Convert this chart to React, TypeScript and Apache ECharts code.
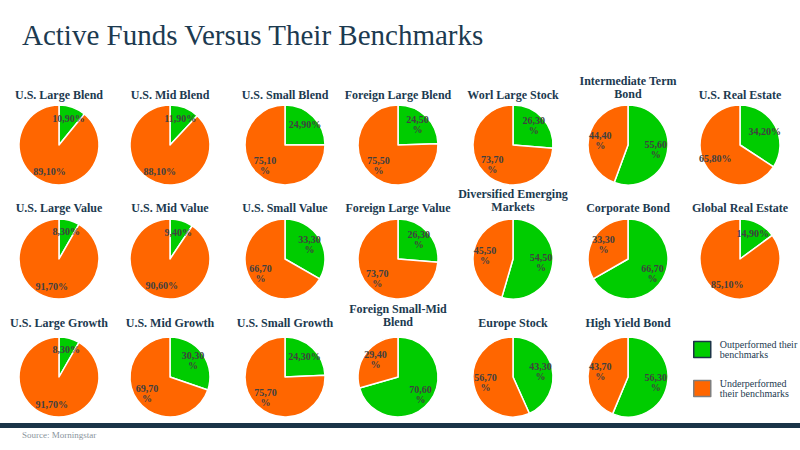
import React, { useEffect, useRef } from "react";
import * as echarts from "echarts";

// ---- data ----
const funds = [
  "U.S. Large Blend", "U.S. Mid Blend", "U.S. Small Blend", "Foreign Large Blend", "Worl Large Stock", "Intermediate Term\nBond", "U.S. Real Estate",
  "U.S. Large Value", "U.S. Mid Value", "U.S. Small Value", "Foreign Large Value", "Diversified Emerging\nMarkets", "Corporate Bond", "Global Real Estate",
  "U.S. Large Growth", "U.S. Mid Growth", "U.S. Small Growth", "Foreign Small-Mid\nBlend", "Europe Stock", "High Yield Bond",
];
const outperformed = [
  10.9, 11.9, 24.9, 24.5, 26.3, 55.6, 34.2,
  8.3, 9.4, 33.3, 26.3, 54.5, 66.7, 14.9,
  8.3, 30.3, 24.3, 70.6, 43.3, 56.3,
];
const underperformed = [
  89.1, 88.1, 75.1, 75.5, 73.7, 44.4, 65.8,
  91.7, 90.6, 66.7, 73.7, 45.5, 33.3, 85.1,
  91.7, 69.7, 75.7, 29.4, 56.7, 43.7,
];
// whether the data label breaks before "%" (outperformed, underperformed)
const wrapOut = [
  false, false, false, true, true, true, false,
  false, false, true, true, true, true, false,
  false, true, false, true, true, true,
];
const wrapUnder = [
  false, false, true, true, true, true, false,
  false, false, true, true, true, true, false,
  false, true, true, true, true, true,
];
const seriesNames = ["Outperformed their benchmarks", "Underperformed their benchmarks"];
const legendLabels = ["Outperformed their\nbenchmarks", "Underperformed\ntheir benchmarks"];
const mainTitle = "Active Funds Versus Their Benchmarks";
const sourceText = "Source: Morningstar";

// ---- layout ----
const colX = [59, 170, 285, 398, 513, 628, 740];
const rowY = [145, 259, 377];
const titleY = [95, 208, 323];
const R = 40;
const GREEN = "#00CC00";
const ORANGE = "#FF6600";
const NAVY = "#1c3a50";
const SERIF = "'Liberation Serif', Georgia, 'Times New Roman', serif";

function fmt(v: number, wrap: boolean) {
  const s = v.toFixed(2).replace(".", ",");
  return wrap ? s + "\n%" : s + "%";
}

export default function App() {
  const ref = useRef<HTMLDivElement>(null);
  useEffect(() => {
    if (!ref.current) return;
    const chart = echarts.init(ref.current, undefined, { renderer: "svg" });
    const series: any[] = [];
    const graphics: any[] = [];
    funds.forEach((name, i) => {
      const col = i % 7;
      const row = Math.floor(i / 7);
      const center = [colX[col], rowY[row]];
      const data = [
        { name: seriesNames[0], value: outperformed[i], itemStyle: { color: GREEN } },
        { name: seriesNames[1], value: underperformed[i], itemStyle: { color: ORANGE } },
      ];
      series.push({
        type: "pie",
        center,
        radius: [0, R],
        startAngle: 90,
        clockwise: true,
        silent: true,
        label: { show: false },
        labelLine: { show: false },
        itemStyle: { borderColor: "#ffffff", borderWidth: 1.5 },
        data,
      });
      series.push({
        type: "pie",
        center,
        radius: [R * 0.26, R],
        startAngle: 90,
        clockwise: true,
        silent: true,
        itemStyle: { color: "rgba(0,0,0,0)", borderWidth: 0 },
        label: {
          show: true,
          position: "inside",
          align: "center",
          color: "#404040",
          fontFamily: SERIF,
          fontWeight: "bold",
          fontSize: 10,
          lineHeight: 10,
          formatter: (p: any) =>
            p.dataIndex === 0 ? fmt(outperformed[i], wrapOut[i]) : fmt(underperformed[i], wrapUnder[i]),
        },
        labelLine: { show: false },
        data: data.map((d) => ({ name: d.name, value: d.value })),
      });
      const lines = name.split("\n");
      lines.forEach((ln, k) => {
        const y = lines.length > 1 ? titleY[row] - 14 + k * 13 : titleY[row];
        graphics.push({
          type: "text",
          x: colX[col],
          y,
          style: {
            text: ln,
            align: "center",
            verticalAlign: "middle",
            fill: NAVY,
            font: `bold 12px ${SERIF}`,
          },
        });
      });
    });
    graphics.push({
      type: "text",
      x: 22,
      y: 35,
      style: { text: mainTitle, align: "left", verticalAlign: "middle", fill: NAVY, font: `29px ${SERIF}` },
    });
    graphics.push({
      type: "rect",
      shape: { x: 0, y: 423, width: 800, height: 5 },
      style: { fill: "#1a3448" },
    });
    graphics.push({
      type: "text",
      x: 22,
      y: 435,
      style: { text: sourceText, align: "left", verticalAlign: "middle", fill: "#8a949c", font: `9px ${SERIF}` },
    });

    chart.setOption({
      animation: false,
      backgroundColor: "#ffffff",
      legend: {
        orient: "vertical",
        left: 688,
        top: 334,
        itemWidth: 17,
        itemHeight: 16,
        itemGap: 18,
        selectedMode: false,
        formatter: (n: string) => legendLabels[seriesNames.indexOf(n)],
        textStyle: { color: NAVY, fontFamily: SERIF, fontSize: 10, lineHeight: 10.5, padding: [0, 0, 0, 4] },
        data: [
          { name: seriesNames[0], icon: "rect", itemStyle: { color: GREEN, borderColor: "#1c3447", borderWidth: 1.5 } },
          { name: seriesNames[1], icon: "rect", itemStyle: { color: ORANGE, borderColor: "#7f7f7f", borderWidth: 1.5 } },
        ],
      },
      series,
      graphic: graphics,
    });
    return () => chart.dispose();
  }, []);
  return (
    <div
      ref={ref}
      style={{ position: "fixed", left: 0, top: 0, width: 800, height: 450, background: "#fff" }}
    />
  );
}
